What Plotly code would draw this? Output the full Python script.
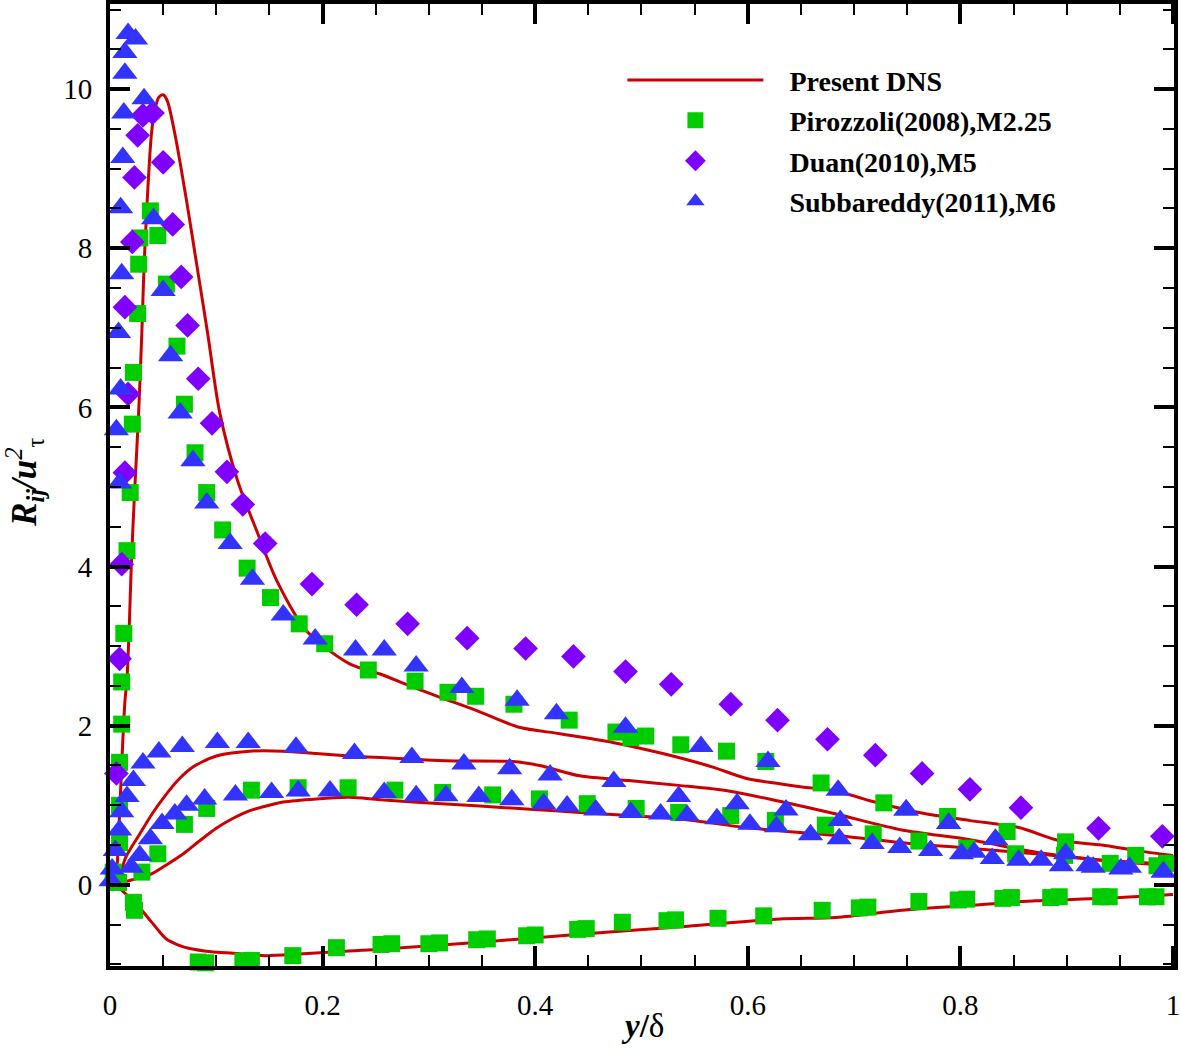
import plotly.graph_objects as go

# ---------------- Present DNS (red lines) ----------------
r11_x = [0.006, 0.008, 0.010, 0.012, 0.014, 0.016, 0.018, 0.020, 0.023, 0.027, 0.030, 0.032, 0.035, 0.039,
         0.042, 0.046, 0.050, 0.054, 0.061, 0.072, 0.082, 0.092, 0.103, 0.120, 0.138, 0.157, 0.185, 0.225,
         0.254, 0.282, 0.310, 0.345, 0.385, 0.423, 0.473, 0.520, 0.567, 0.598, 0.630, 0.651, 0.683, 0.714,
         0.761, 0.808, 0.855, 0.892, 0.933, 0.965, 1.000]
r11_y = [0.00, 0.60, 1.20, 1.80, 2.30, 2.60, 3.20, 4.00, 4.90, 5.95, 6.96, 7.76, 8.60, 9.44,
         9.73, 9.90, 9.93, 9.85, 9.44, 8.60, 7.76, 6.92, 5.95, 5.08, 4.45, 3.82, 3.19, 2.78,
         2.65, 2.50, 2.36, 2.19, 1.98, 1.90, 1.79, 1.65, 1.48, 1.34, 1.27, 1.23, 1.18, 1.06,
         0.91, 0.81, 0.72, 0.56, 0.50, 0.43, 0.37]

r22_x = [0.006, 0.010, 0.015, 0.028, 0.040, 0.053, 0.065, 0.078, 0.100, 0.131, 0.163, 0.194, 0.225,
         0.254, 0.316, 0.379, 0.404, 0.442, 0.488, 0.535, 0.582, 0.630, 0.683, 0.745, 0.808, 0.871,
         0.933, 1.000]
r22_y = [0.02, 0.15, 0.35, 0.64, 0.90, 1.14, 1.33, 1.48, 1.62, 1.68, 1.68, 1.65, 1.62,
         1.60, 1.56, 1.55, 1.50, 1.37, 1.31, 1.25, 1.18, 1.05, 0.89, 0.69, 0.57, 0.41,
         0.31, 0.26]

r33_x = [0.006, 0.012, 0.020, 0.038, 0.053, 0.069, 0.085, 0.100, 0.115, 0.131, 0.147, 0.163, 0.194,
         0.225, 0.254, 0.300, 0.348, 0.395, 0.442, 0.488, 0.535, 0.598, 0.630, 0.683, 0.745, 0.808,
         0.871, 0.933, 1.000]
r33_y = [0.00, 0.03, 0.06, 0.13, 0.25, 0.39, 0.56, 0.71, 0.83, 0.93, 0.99, 1.04, 1.08,
         1.10, 1.07, 1.03, 0.99, 0.95, 0.91, 0.87, 0.83, 0.72, 0.68, 0.62, 0.53, 0.46,
         0.39, 0.31, 0.24]

r12_x = [0.006, 0.012, 0.022, 0.030, 0.038, 0.046, 0.053, 0.065, 0.075, 0.095, 0.116, 0.147, 0.178,
         0.225, 0.254, 0.348, 0.442, 0.535, 0.630, 0.683, 0.745, 0.808, 0.871, 0.933, 1.000]
r12_y = [0.00, -0.08, -0.20, -0.32, -0.45, -0.58, -0.68, -0.76, -0.80, -0.84, -0.86, -0.89, -0.87,
         -0.83, -0.81, -0.72, -0.62, -0.53, -0.43, -0.41, -0.32, -0.26, -0.20, -0.17, -0.12]

# ---------------- Pirozzoli (2008), M2.25 ----------------
pir_x = [0.009, 0.009, 0.009, 0.011, 0.011, 0.013, 0.016, 0.019, 0.021, 0.022, 0.026, 0.027, 0.028,
         0.038, 0.045, 0.053, 0.063, 0.070, 0.080, 0.091, 0.106, 0.129, 0.151, 0.178, 0.202, 0.243,
         0.287, 0.318, 0.344, 0.380, 0.432, 0.476, 0.490, 0.504, 0.537, 0.580, 0.617, 0.669, 0.728,
         0.788, 0.844, 0.899, 0.965, 0.994,
         0.003, 0.008, 0.030, 0.045, 0.070, 0.091, 0.133, 0.177, 0.224, 0.268, 0.313, 0.360, 0.404,
         0.449, 0.495, 0.535, 0.584, 0.626, 0.673, 0.718, 0.761, 0.806, 0.852, 0.898, 0.941, 0.985,
         0.022, 0.023, 0.083, 0.090, 0.125, 0.133, 0.172, 0.213, 0.255, 0.265, 0.300, 0.310, 0.345,
         0.355, 0.392, 0.400, 0.440, 0.448, 0.482, 0.524, 0.532, 0.572, 0.615, 0.670, 0.705, 0.713,
         0.761, 0.798, 0.806, 0.840, 0.848, 0.885, 0.893, 0.932, 0.940, 0.976, 0.984]
pir_y = [0.53, 1.00, 1.54, 2.02, 2.55, 3.16, 4.20, 4.93, 5.79, 6.44, 7.18, 7.80, 8.13,
         8.47, 8.16, 7.55, 6.77, 6.04, 5.43, 4.93, 4.46, 3.98, 3.61, 3.28, 3.03, 2.70,
         2.56, 2.42, 2.37, 2.27, 2.07, 1.92, 1.85, 1.87, 1.76, 1.68, 1.55, 1.28, 1.03,
         0.86, 0.67, 0.54, 0.37, 0.27,
         0.16, 0.03, 0.16, 0.39, 0.76, 0.96, 1.19, 1.22, 1.22, 1.19, 1.16, 1.13, 1.08,
         1.02, 0.96, 0.91, 0.87, 0.81, 0.75, 0.64, 0.55, 0.46, 0.39, 0.37, 0.27, 0.24,
         -0.22, -0.32, -0.97, -0.98, -0.96, -0.95, -0.89, -0.79, -0.75, -0.74, -0.74, -0.73, -0.69,
         -0.68, -0.64, -0.63, -0.56, -0.55, -0.47, -0.45, -0.44, -0.42, -0.39, -0.32, -0.29, -0.28,
         -0.21, -0.19, -0.18, -0.17, -0.16, -0.16, -0.15, -0.15, -0.15, -0.15, -0.15]

# ---------------- Duan (2010), M5 ----------------
duan_x = [0.006, 0.009, 0.011, 0.014, 0.017, 0.014, 0.021, 0.023, 0.026, 0.031, 0.040, 0.050, 0.059,
          0.067, 0.073, 0.083, 0.096, 0.110, 0.125, 0.146, 0.190, 0.232, 0.280, 0.336, 0.391, 0.436,
          0.485, 0.528, 0.584, 0.628, 0.675, 0.720, 0.764, 0.809, 0.857, 0.930, 0.990]
duan_y = [1.40, 2.84, 4.03, 5.18, 6.17, 7.26, 8.08, 8.89, 9.42, 9.67, 9.70, 9.08, 8.30,
          7.64, 7.03, 6.36, 5.80, 5.19, 4.78, 4.29, 3.78, 3.52, 3.28, 3.10, 2.97, 2.87,
          2.68, 2.52, 2.27, 2.07, 1.83, 1.63, 1.40, 1.20, 0.97, 0.71, 0.61]

# ---------------- Subbareddy (2011), M6 ----------------
sub_x = [0.001, 0.005, 0.009, 0.011, 0.016, 0.022, 0.031, 0.046, 0.068, 0.101, 0.130, 0.175, 0.230,
         0.284, 0.333, 0.376, 0.414, 0.474, 0.535, 0.590, 0.636, 0.687, 0.749, 0.789, 0.833, 0.876,
         0.920, 0.959,
         0.002, 0.020, 0.028, 0.038, 0.049, 0.061, 0.072, 0.089, 0.118, 0.152, 0.177, 0.207, 0.258,
         0.288, 0.316, 0.347, 0.378, 0.408, 0.430, 0.457, 0.490, 0.518, 0.543, 0.571, 0.602, 0.627,
         0.659, 0.686, 0.717, 0.743, 0.772, 0.801, 0.813, 0.830, 0.855, 0.895, 0.925, 0.951, 0.991,
         0.006, 0.009, 0.010, 0.008, 0.011, 0.010, 0.012, 0.013, 0.014, 0.014, 0.017, 0.024, 0.032,
         0.041, 0.050, 0.057, 0.066, 0.078, 0.091, 0.113, 0.134, 0.163, 0.193, 0.231, 0.258, 0.288,
         0.331, 0.383, 0.420, 0.485, 0.556, 0.619, 0.685, 0.749, 0.789, 0.833, 0.899, 0.991]
sub_y = [0.05, 0.43, 0.69, 0.92, 1.11, 1.31, 1.53, 1.67, 1.74, 1.79, 1.79, 1.73, 1.65,
         1.60, 1.52, 1.46, 1.38, 1.30, 1.11, 1.02, 0.94, 0.81, 0.94, 0.77, 0.57, 0.31,
         0.24, 0.22,
         0.20, 0.22, 0.37, 0.58, 0.77, 0.89, 1.00, 1.08, 1.13, 1.16, 1.18, 1.18, 1.16,
         1.12, 1.12, 1.11, 1.07, 1.02, 0.99, 0.94, 0.91, 0.89, 0.87, 0.83, 0.76, 0.73,
         0.63, 0.58, 0.52, 0.47, 0.43, 0.39, 0.41, 0.33, 0.31, 0.24, 0.22, 0.20, 0.16,
         5.72, 5.05, 6.23, 6.94, 7.68, 8.51, 9.14, 9.70, 10.20, 10.46, 10.70, 10.63, 9.88,
         8.37, 7.47, 6.65, 5.93, 5.33, 4.80, 4.29, 3.84, 3.39, 3.09, 2.95, 2.95, 2.75,
         2.48, 2.32, 2.15, 1.98, 1.74, 1.55, 1.19, 0.94, 0.77, 0.57, 0.39, 0.16]

# ---------------- axes ----------------
x_ticks = [0, 0.2, 0.4, 0.6, 0.8, 1.0]
x_labels = ["0", "0.2", "0.4", "0.6", "0.8", "1"]
y_ticks = [0, 2, 4, 6, 8, 10]
y_labels = ["0", "2", "4", "6", "8", "10"]

RED = "#CC0000"
GREEN = "#00CC00"
VIOLET = "#7F00FF"
BLUE = "#3333FF"
SERIF = "Liberation Serif, Times New Roman, serif"
PAD = "\u00a0\u00a0\u00a0"

fig = go.Figure()
for i, (xs, ys) in enumerate([(r11_x, r11_y), (r22_x, r22_y), (r33_x, r33_y), (r12_x, r12_y)]):
    fig.add_trace(go.Scatter(
        x=xs, y=ys, mode="lines", name=PAD + "Present DNS",
        line=dict(color=RED, width=3, shape="spline", smoothing=0.8),
        legendgroup="dns", showlegend=(i == 0), cliponaxis=True))

fig.add_trace(go.Scatter(
    x=pir_x, y=pir_y, mode="markers", name=PAD + "Pirozzoli(2008),M2.25",
    marker=dict(symbol="square", size=17, color=GREEN, line=dict(width=0)),
    legendgroup="pir", cliponaxis=False))
fig.add_trace(go.Scatter(
    x=duan_x, y=duan_y, mode="markers", name=PAD + "Duan(2010),M5",
    marker=dict(symbol="diamond", size=19, color=VIOLET, line=dict(width=0)),
    legendgroup="duan", cliponaxis=False))
fig.add_trace(go.Scatter(
    x=sub_x, y=sub_y, mode="markers", name=PAD + "Subbareddy(2011),M6",
    marker=dict(symbol="triangle-up", size=22, color=BLUE, line=dict(width=0)),
    legendgroup="sub", cliponaxis=False))

axis_common = dict(
    showline=True, linecolor="black", linewidth=4, mirror="allticks",
    ticks="inside", ticklen=20, tickwidth=4, tickcolor="black",
    showgrid=False, zeroline=False, automargin=False,
    tickfont=dict(family=SERIF, size=29, color="black"),
)

fig.update_xaxes(
    range=[0, 1.001], tickmode="array", tickvals=x_ticks, ticktext=x_labels,
    minor=dict(dtick=0.05, ticks="inside", ticklen=11, tickwidth=1.5, tickcolor="black"),
    ticklabelstandoff=10,
    **axis_common)
fig.update_yaxes(
    range=[-1.02, 11.07], tickmode="array", tickvals=y_ticks, ticktext=y_labels,
    minor=dict(dtick=0.5, ticks="inside", ticklen=11, tickwidth=1.5, tickcolor="black"),
    ticklabelstandoff=8,
    **axis_common)

fig.add_annotation(
    text="<b><i>y</i>/</b>δ", xref="paper", yref="paper", x=0.5, y=-0.062,
    xanchor="center", yanchor="middle", showarrow=False,
    font=dict(family=SERIF, size=33, color="black"))
fig.add_annotation(
    text="<b><i>R<sub>ij</sub>/u</i></b><sup><i>2</i></sup><sub>τ</sub>",
    xref="paper", yref="paper", x=-0.081, y=0.503, textangle=-90,
    xanchor="center", yanchor="middle", showarrow=False,
    font=dict(family=SERIF, size=35, color="black"))

fig.update_layout(
    width=1181, height=1049,
    margin=dict(l=110, r=7, t=4, b=83),
    plot_bgcolor="white", paper_bgcolor="white",
    legend=dict(
        x=0.4816, y=0.9467, xanchor="left", yanchor="top",
        font=dict(family=SERIF, size=28, color="black", weight="bold"),
        bgcolor="rgba(0,0,0,0)", itemwidth=136, tracegroupgap=1,
        itemsizing="trace",
    ),
)

fig.write_html("out.html", config={"displayModeBar": False},
               post_script="document.body.style.margin='0';document.body.style.overflow='hidden';")
